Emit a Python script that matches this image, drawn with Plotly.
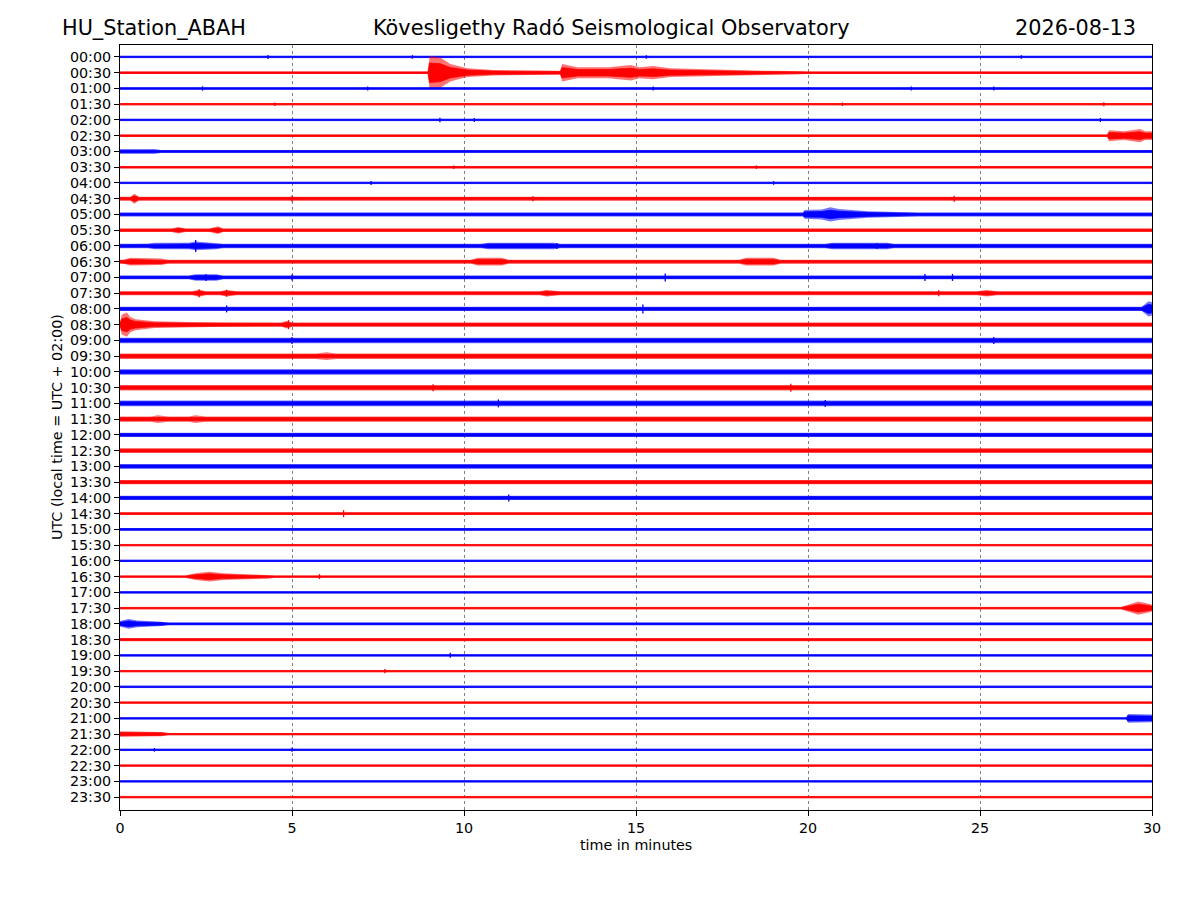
import plotly.graph_objects as go

# ---------------- data ----------------
row_labels = [f"{h:02d}:{m:02d}" for h in range(24) for m in (0, 30)]
x_ticks = [0, 5, 10, 15, 20, 25, 30]
row_colors = ["#0000ff", "#ff0000"]  # full hour rows blue, half hour rows red
row_colors_soft = ["rgba(0,0,255,0.55)", "rgba(255,0,0,0.55)"]

# background noise half-amplitude of each row (counts; 1 count ~ 1 px)
base_amp = [1.0, 1.2, 1.2, 1.0, 1.0, 1.2, 1.3, 1.1, 1.0, 1.8, 1.8, 1.6,
            2.0, 1.8, 1.7, 1.8, 2.0, 2.0, 2.5, 2.5, 2.5, 2.5, 2.6, 2.4,
            2.0, 2.2, 2.2, 2.0, 2.0, 1.2, 1.3, 1.0, 1.0, 1.1, 1.1, 1.1,
            1.2, 1.4, 1.1, 1.0, 1.1, 1.0, 1.0, 1.0, 1.0, 1.1, 1.0, 1.0]

# envelope control points of bursts per row: (minute, half-amplitude)
events = {
    1: [(8.95, 1.2), (9.0, 15), (9.3, 14), (9.6, 8), (10.1, 4), (10.85, 2.5),
        (11.7, 2), (12.8, 1.8), (12.85, 8), (13.3, 5), (14.2, 5), (14.6, 6),
        (14.85, 7), (15.1, 5), (15.5, 6), (16.0, 4), (16.9, 3), (18.4, 2),
        (19.5, 1.5), (20.0, 1.2)],
    5: [(28.7, 1.2), (28.75, 5), (29.2, 4), (29.65, 6), (29.8, 4), (30.0, 4)],
    6: [(0.0, 2.0), (1.0, 2.0), (1.2, 1.3)],
    9: [(0.3, 1.8), (0.42, 4.5), (0.55, 1.8)],
    10: [(19.85, 1.8), (19.9, 4), (20.4, 4.5), (20.65, 6.5), (20.9, 5),
         (21.75, 3), (22.85, 2), (23.2, 1.8)],
    11: [(1.5, 1.6), (1.7, 3), (1.9, 1.6), (2.6, 1.6), (2.85, 3.5), (3.0, 1.6)],
    12: [(0.8, 2), (1.0, 3), (2.0, 3), (2.2, 4), (2.8, 3), (3.0, 2),
         (10.5, 2), (10.7, 3), (12.6, 3), (12.8, 2),
         (20.5, 2), (20.7, 3), (22.3, 3), (22.5, 2)],
    13: [(0.1, 1.8), (0.3, 3.5), (1.2, 3), (1.4, 1.8), (10.2, 1.8), (10.4, 3.5),
         (11.1, 3.5), (11.3, 1.8), (18.0, 1.8), (18.2, 3.5), (19.0, 3.5),
         (19.2, 1.8)],
    14: [(2.0, 1.7), (2.2, 3), (2.8, 3), (3.0, 1.7)],
    15: [(2.1, 1.8), (2.3, 3.2), (2.5, 1.8), (2.9, 1.8), (3.1, 3), (3.4, 1.8),
         (12.2, 1.8), (12.4, 3), (12.8, 1.8), (24.9, 1.8), (25.2, 3), (25.5, 1.8)],
    16: [(29.7, 2), (29.9, 7), (30.0, 6)],
    17: [(0.0, 2), (0.05, 9), (0.2, 11), (0.3, 7), (0.45, 5), (1.0, 3),
         (2.0, 2.5), (3.0, 2), (4.7, 2), (4.85, 3.5), (5.0, 2)],
    19: [(5.7, 2.5), (6.0, 3.5), (6.3, 2.5)],
    23: [(0.9, 2.4), (1.1, 3.5), (1.4, 2.4), (2.0, 2.4), (2.2, 3.5), (2.5, 2.4)],
    33: [(1.9, 1.1), (2.2, 3), (2.6, 4.5), (3.0, 3), (4.3, 1.8), (4.5, 1.1)],
    35: [(29.1, 1.1), (29.3, 3), (29.6, 6), (29.9, 4), (30.0, 3)],
    36: [(0.0, 2.5), (0.25, 4.5), (0.5, 3), (1.2, 2), (1.4, 1.2)],
    42: [(29.25, 1.0), (29.3, 4), (30.0, 3.5)],
    43: [(0.0, 2.5), (1.2, 2), (1.4, 1.0)],
}

# isolated spikes per row: (minute, half-amplitude)
spikes = {
    0: [(4.3, 2), (8.5, 1.8), (15.3, 1.8), (26.2, 1.8)],
    2: [(2.4, 2.2), (7.2, 2), (15.5, 2), (23.0, 2), (25.4, 2)],
    3: [(4.5, 1.8), (21.0, 1.8), (28.6, 2)],
    4: [(9.3, 2.2), (10.3, 2), (28.5, 2)],
    7: [(9.7, 1.8), (18.5, 1.8)],
    8: [(7.3, 2), (19.0, 1.8)],
    9: [(5.0, 3), (12.0, 2.5), (24.25, 3)],
    12: [(2.2, 6), (12.7, 3), (22.0, 3)],
    14: [(2.5, 3.5), (5.0, 3), (15.85, 4), (23.4, 3.5), (24.2, 3.5)],
    15: [(2.3, 4), (3.1, 3.5), (23.8, 3)],
    16: [(3.1, 3.5), (15.2, 4.5)],
    17: [(4.9, 4.5)],
    18: [(5.0, 3.5), (25.4, 3.5)],
    21: [(9.1, 3.5), (19.5, 4)],
    22: [(11.0, 4), (20.5, 3.5)],
    28: [(11.3, 3.5)],
    29: [(6.5, 3.5)],
    33: [(5.8, 2.5)],
    38: [(9.6, 2.5)],
    39: [(7.7, 2.2)],
    44: [(1.0, 1.8), (5.0, 2)],
}

# ---------------- figure ----------------
ROW_PX = 15.745          # pixels between two rows
SCALE = 1.0 / ROW_PX     # counts -> row units

fig = go.Figure()


def band(i, ts, am, fillcolor, linecolor, lw):
    xs = ts + ts[::-1]
    ys = [i - a * SCALE for a in am] + [i + a * SCALE for a in am[::-1]]
    fig.add_trace(go.Scatter(x=xs, y=ys, mode="lines", fill="toself",
                             fillcolor=fillcolor, line=dict(color=linecolor, width=lw),
                             hoverinfo="skip", showlegend=False))


for i, lab in enumerate(row_labels):
    color = row_colors[i % 2]
    soft = row_colors_soft[i % 2]
    pts = [(0.0, base_amp[i])] + events.get(i, []) + [(30.0, base_amp[i])]
    pts = sorted(pts, key=lambda p: p[0])
    ts = [p[0] for p in pts]
    am = [p[1] for p in pts]
    # outer, lighter envelope
    band(i, ts, [a * 1.1 for a in am], soft, "rgba(0,0,0,0)", 0)
    # dense core of the trace
    band(i, ts, [a * 0.65 for a in am], color, color, 0.7)
    if i in spikes:
        sx, sy = [], []
        for t, a in spikes[i]:
            sx += [t, t, None]
            sy += [i - a * SCALE, i + a * SCALE, None]
        fig.add_trace(go.Scatter(x=sx, y=sy, mode="lines",
                                 line=dict(color=color, width=1.3),
                                 hoverinfo="skip", showlegend=False))

fig.update_layout(
    width=1200, height=900,
    margin=dict(l=112, r=56, t=37, b=98),
    paper_bgcolor="white", plot_bgcolor="white",
    font=dict(family="DejaVu Sans", size=14.3, color="black"),
    showlegend=False,
)
fig.update_xaxes(range=[0, 30], tickvals=x_ticks, ticktext=[str(v) for v in x_ticks],
                 showline=True, linecolor="black", linewidth=1, mirror=True,
                 ticks="outside", ticklen=5, tickcolor="black",
                 showgrid=True, gridcolor="#808080", gridwidth=0.6, griddash="dot",
                 zeroline=False)
fig.update_yaxes(range=[47.82, -0.76], tickvals=list(range(len(row_labels))),
                 ticktext=row_labels,
                 showline=True, linecolor="black", linewidth=1, mirror=True,
                 ticks="outside", ticklen=5, tickcolor="black",
                 showgrid=False, zeroline=False)

ann = dict(xref="paper", yref="paper", showarrow=False,
           font=dict(family="DejaVu Sans", size=20.8, color="black"))
fig.add_annotation(text="HU_Station_ABAH", x=(60 - 120) / 1032, y=(810 - 28) / 765,
                   xanchor="left", yanchor="middle", **ann)
fig.add_annotation(text="Kövesligethy Radó Seismological Observatory",
                   x=(611 - 120) / 1032, y=(810 - 28) / 765,
                   xanchor="center", yanchor="middle", **ann)
fig.add_annotation(text="2026-08-13", x=(1138 - 120) / 1032, y=(810 - 28) / 765,
                   xanchor="right", yanchor="middle", **ann)
fig.add_annotation(text="time in minutes", xref="paper", yref="paper",
                   x=0.5, y=(810 - 845) / 765, xanchor="center", yanchor="middle",
                   showarrow=False, font=dict(family="DejaVu Sans", size=14.3))
fig.add_annotation(text="UTC (local time = UTC + 02:00)", xref="paper", yref="paper",
                   x=(57 - 120) / 1032, y=(810 - 427) / 765, textangle=-90,
                   xanchor="center", yanchor="middle",
                   showarrow=False, font=dict(family="DejaVu Sans", size=14.3))

fig.write_html("out.html")
